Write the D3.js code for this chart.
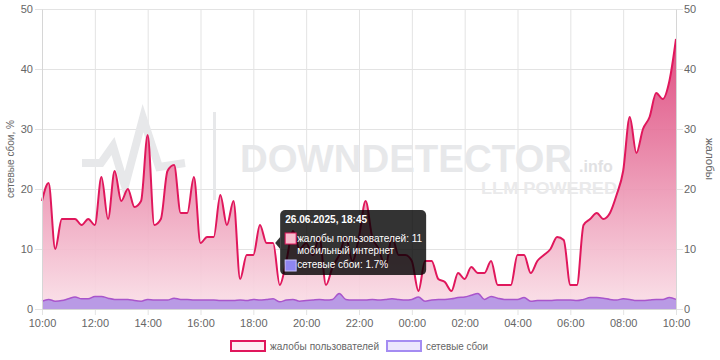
<!DOCTYPE html>
<html>
<head>
<meta charset="utf-8">
<title>Жалобы и сетевые сбои</title>
<style>
  body { margin: 0; background: #fff; }
  svg { display: block; font-family: "Liberation Sans", Arial, sans-serif; }
  .tick text { fill: #666; font-size: 11px; }
  .grid line { stroke: #e3e3e3; }
  .grid path { stroke: none; }
</style>
</head>
<body>
<svg id="chart" width="720" height="360"></svg>
<script src="https://cdn.jsdelivr.net/npm/d3@7/dist/d3.min.js"></script>
<script>
// 15-minute samples, 26.06.2025 10:00 -> 27.06.2025 10:00
const startTime = "2025-06-26 10:00";
const stepMinutes = 15;

// жалобы пользователей (right axis)
const complaints = [
  18, 21, 10, 15, 15, 15, 14, 15, 14, 22,
  15, 23, 18, 20, 17, 18, 29, 14, 15, 23,
  24, 16, 16, 22, 11, 12, 12, 19, 14, 18,
  5, 9, 9, 14, 11, 11, 4, 8, 13, 10,
  11, 9, 12, 4, 7, 9, 12, 8, 12, 18,
  12, 10, 7, 12, 9, 9, 8, 3, 8, 8,
  5, 4.5, 3, 6, 5, 7, 6, 6, 8, 4,
  4, 4, 9, 9, 6, 8, 9, 10, 12, 11.5,
  4, 4, 14, 15, 16, 15, 16, 19, 23, 32,
  26, 30, 32, 36, 35, 38, 45
];

// сетевые сбои, % (left axis)
const outages = [
  1.3, 1.6, 1.3, 1.4, 1.7, 2.0, 1.7, 1.7, 2.1, 2.1,
  1.8, 1.6, 1.6, 1.6, 1.4, 1.3, 1.6, 1.5, 1.5, 1.5,
  1.8, 1.6, 1.6, 1.5, 1.5, 1.5, 1.5, 1.4, 1.4, 1.4,
  1.5, 1.4, 1.6, 1.5, 1.6, 1.7, 1.2, 1.5, 1.6, 1.3,
  1.4, 1.5, 1.6, 1.5, 1.6, 2.6, 1.6, 1.5, 1.5, 1.5,
  1.6, 1.5, 1.6, 1.7, 1.6, 1.5, 1.6, 2.0, 1.3, 1.5,
  1.6, 1.6, 1.7, 1.9, 2.0, 2.3, 2.6, 1.6, 2.1, 1.8,
  1.6, 1.6, 1.6, 1.9, 1.3, 1.4, 1.4, 1.4, 1.5, 1.5,
  1.5, 1.4, 1.6, 1.9, 1.9, 1.8, 1.6, 1.5, 1.7, 1.6,
  1.4, 1.4, 1.5, 1.6, 1.6, 1.9, 1.6
];

const yTicks = [0, 10, 20, 30, 40, 50];
const seriesNames = ["жалобы пользователей", "сетевые сбои"];
const leftTitle = "сетевые сбои, %";
const rightTitle = "жалобы";

// tooltip shown in the picture
const tipIndex = 35;
const tipTitle = "26.06.2025, 18:45";
const tipLines = ["жалобы пользователей: 11", "мобильный интернет", "сетевые сбои: 1.7%"];

const pLeft = 42, pRight = 676, pTop = 9, pBottom = 309;

const parse = d3.timeParse("%Y-%m-%d %H:%M");
const t0 = parse(startTime);
const data = complaints.map((c, i) => ({
  t: d3.timeMinute.offset(t0, i * stepMinutes),
  c: c,
  o: outages[i]
}));

const svg = d3.select("#chart");

const x = d3.scaleTime()
  .domain(d3.extent(data, d => d.t))
  .range([pLeft, pRight]);
const yL = d3.scaleLinear().domain([0, 50]).range([pBottom, pTop]);
const yR = d3.scaleLinear().domain([0, 50]).range([pBottom, pTop]);

// squeeze a text to the width it has in the picture
function fitText(sel, w) {
  return sel.attr("textLength", w).attr("lengthAdjust", "spacingAndGlyphs");
}

// gradient for complaints fill
const defs = svg.append("defs");
const grad = defs.append("linearGradient")
  .attr("id", "pinkFill")
  .attr("gradientUnits", "userSpaceOnUse")
  .attr("x1", 0).attr("x2", 0)
  .attr("y1", pTop).attr("y2", pBottom);
grad.append("stop").attr("offset", "0%").attr("stop-color", "#d92e6c");
grad.append("stop").attr("offset", "45%").attr("stop-color", "#e77ba0");
grad.append("stop").attr("offset", "100%").attr("stop-color", "#fae0e8");

// grid
svg.append("g").attr("class", "grid")
  .attr("transform", `translate(0,${pBottom})`)
  .call(d3.axisBottom(x).ticks(d3.timeHour.every(2)).tickFormat(""))
  .call(g => g.selectAll("line").attr("y2", -(pBottom - pTop)).attr("y1", 6));
svg.append("g").attr("class", "grid")
  .attr("transform", `translate(${pLeft},0)`)
  .call(d3.axisLeft(yL).tickValues(yTicks).tickFormat(""))
  .call(g => g.selectAll("line").attr("x1", -7).attr("x2", pRight - pLeft + 7));

// watermark
const wm = svg.append("g").attr("fill", "#e7e8ea").attr("font-weight", "bold");
wm.append("path")
  .attr("d", "M82,163 L101,163 L113,146 L125,186 L143,118 L159,167 L185,163")
  .attr("fill", "none").attr("stroke", "#e7e8ea").attr("stroke-width", 8)
  .attr("stroke-linejoin", "miter");
wm.append("rect").attr("x", 213).attr("y", 112).attr("width", 3).attr("height", 88);
wm.append("text").attr("x", 240).attr("y", 172).attr("font-size", 38)
  .attr("textLength", 332).attr("lengthAdjust", "spacingAndGlyphs").text("DOWNDETECTOR");
wm.append("text").attr("x", 579).attr("y", 172).attr("font-size", 16)
  .attr("fill", "#e1e1e3").text(".info");
wm.append("text").attr("x", 481).attr("y", 194).attr("font-size", 17)
  .attr("fill", "#eaeaeb").attr("textLength", 136).attr("lengthAdjust", "spacingAndGlyphs")
  .text("LLM POWERED");

// areas
const areaC = d3.area().curve(d3.curveMonotoneX)
  .x(d => x(d.t)).y0(pBottom).y1(d => yR(d.c));
const lineC = d3.line().curve(d3.curveMonotoneX)
  .x(d => x(d.t)).y(d => yR(d.c));
const areaO = d3.area().curve(d3.curveMonotoneX)
  .x(d => x(d.t)).y0(pBottom).y1(d => yL(d.o));
const lineO = d3.line().curve(d3.curveMonotoneX)
  .x(d => x(d.t)).y(d => yL(d.o));

svg.append("path").datum(data).attr("d", areaC).attr("fill", "url(#pinkFill)").attr("opacity", 0.92);
svg.append("path").datum(data).attr("d", areaO).attr("fill", "#b99ae5");
svg.append("path").datum(data).attr("d", lineO)
  .attr("fill", "none").attr("stroke", "#a955cc").attr("stroke-width", 1.5);
svg.append("path").datum(data).attr("d", lineC)
  .attr("fill", "none").attr("stroke", "#e0175c").attr("stroke-width", 2);

// axes
const axL = svg.append("g").attr("transform", `translate(${pLeft},0)`)
  .call(d3.axisLeft(yL).tickValues(yTicks).tickSize(0).tickPadding(9));
const axR = svg.append("g").attr("transform", `translate(${pRight},0)`)
  .call(d3.axisRight(yR).tickValues(yTicks).tickSize(0).tickPadding(8));
const axB = svg.append("g").attr("transform", `translate(0,${pBottom})`)
  .call(d3.axisBottom(x).ticks(d3.timeHour.every(2)).tickFormat(d3.timeFormat("%H:%M"))
    .tickSize(0).tickPadding(10));
[axL, axR, axB].forEach(a => a.select(".domain").attr("stroke", "#d6d6d6"));

fitText(svg.append("text")
  .attr("transform", `translate(10,${(pTop + pBottom) / 2}) rotate(-90)`)
  .attr("text-anchor", "middle").attr("dy", "0.35em")
  .attr("fill", "#666").attr("font-size", 11.5).text(leftTitle), 78);
svg.append("text")
  .attr("transform", `translate(710,${(pTop + pBottom) / 2}) rotate(90)`)
  .attr("text-anchor", "middle").attr("dy", "0.35em")
  .attr("fill", "#666").attr("font-size", 11.5).text(rightTitle);

// legend
const legend = svg.append("g").attr("font-size", 11.5).attr("fill", "#666");
const legItems = [
  { name: seriesNames[0], x: 231, w: 109, fill: "#fdeef3", stroke: "#e0175c" },
  { name: seriesNames[1], x: 387, w: 62, fill: "#ebe6fd", stroke: "#a48cf2" }
];
legItems.forEach(d => {
  legend.append("rect").attr("x", d.x).attr("y", 341).attr("width", 34).attr("height", 10)
    .attr("fill", d.fill).attr("stroke", d.stroke).attr("stroke-width", 2);
  fitText(legend.append("text").attr("x", d.x + 39).attr("y", 350).text(d.name), d.w);
});

// tooltip
const px = x(data[tipIndex].t);
const tip = svg.append("g");
const tx = px + 7, ty = 210, tw = 146, th = 65;
tip.append("path")
  .attr("d", `M${tx},${ty + 27} L${tx - 5},${ty + 33} L${tx},${ty + 39} Z`)
  .attr("fill", "rgba(0,0,0,0.8)");
tip.append("rect").attr("x", tx).attr("y", ty).attr("width", tw).attr("height", th)
  .attr("rx", 5).attr("fill", "rgba(0,0,0,0.8)");
fitText(tip.append("text").attr("x", tx + 5).attr("y", ty + 12.5).attr("fill", "#fff")
  .attr("font-size", 11.5).attr("font-weight", "bold").text(tipTitle), 82);
tip.append("rect").attr("x", tx + 5).attr("y", ty + 23).attr("width", 11).attr("height", 11)
  .attr("fill", "#f6bccd").attr("stroke", "#e0175c").attr("stroke-width", 1);
tip.append("rect").attr("x", tx + 5).attr("y", ty + 50).attr("width", 11).attr("height", 11)
  .attr("fill", "#8f86f0").attr("stroke", "#c9c3fa").attr("stroke-width", 1);
const tipWidths = [125, 97, 91];
const tipBase = [31.5, 43.5, 58];
tipLines.forEach((s, i) => {
  fitText(tip.append("text").attr("x", tx + 17).attr("y", ty + tipBase[i])
    .attr("fill", "#fff").attr("font-size", 11.5).text(s), tipWidths[i]);
});
</script>
</body>
</html>
